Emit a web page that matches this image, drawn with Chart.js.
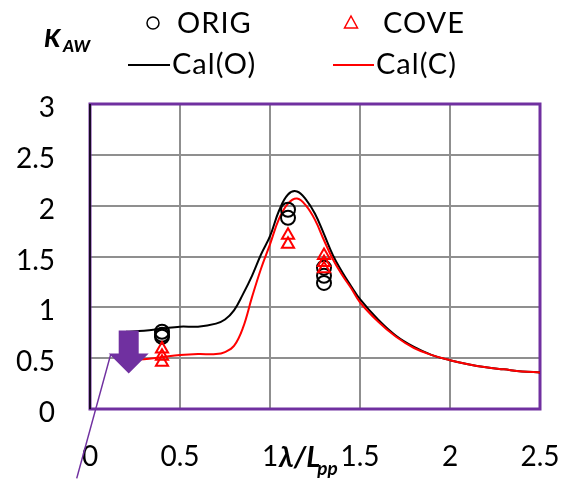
<!DOCTYPE html>
<html>
<head>
<meta charset="utf-8">
<script src="https://cdn.jsdelivr.net/npm/chart.js@4"></script>
<style>
  html, body { margin: 0; padding: 0; background: #fff; }
  #wrap { width: 562px; height: 482px; }
</style>
</head>
<body>
<div id="wrap"><canvas id="kavChart" width="562" height="482"></canvas></div>
<script>
// measured points
const origX = [0.4, 0.4, 0.4, 1.1, 1.1, 1.3, 1.3, 1.3];
const origY = [0.76, 0.73, 0.71, 1.96, 1.88, 1.39, 1.31, 1.24];
const coveX = [0.4, 0.4, 0.4, 1.1, 1.1, 1.3, 1.3, 1.3];
const coveY = [0.59, 0.52, 0.46, 1.71, 1.62, 1.51, 1.44, 1.38];

// calculated curves
const calX = [0.2, 0.3, 0.4, 0.5, 0.6, 0.7, 0.75, 0.8, 0.85, 0.9, 0.95, 1.0, 1.05, 1.1, 1.15,
              1.2, 1.25, 1.3, 1.35, 1.4, 1.45, 1.5, 1.6, 1.7, 1.8, 1.9, 2.0, 2.1, 2.2, 2.3, 2.4, 2.5];
const calO = [0.76, 0.77, 0.79, 0.81, 0.81, 0.84, 0.88, 0.97, 1.13, 1.31, 1.52, 1.70, 1.95, 2.11, 2.14,
              2.06, 1.92, 1.72, 1.51, 1.35, 1.21, 1.08, 0.88, 0.72, 0.61, 0.53, 0.48, 0.44, 0.41, 0.39, 0.37, 0.36];
const calC = [0.48, 0.49, 0.51, 0.53, 0.54, 0.54, 0.56, 0.62, 0.80, 1.10, 1.38, 1.62, 1.87, 2.02, 2.07,
              2.00, 1.86, 1.66, 1.47, 1.32, 1.19, 1.05, 0.86, 0.71, 0.60, 0.53, 0.48, 0.44, 0.41, 0.39, 0.37, 0.36];

const xTicks = [0, 0.5, 1, 1.5, 2, 2.5];
const yTicks = [0, 0.5, 1, 1.5, 2, 2.5, 3];

const FONT = "Lato, 'Open Sans', sans-serif";
const PURPLE = "#7030A0";

const toPoints = (xs, ys) => xs.map((x, i) => ({ x: x, y: ys[i] }));

// frame round the plot area
const framePlugin = {
    id: "frame",
    beforeDatasetsDraw(chart) {
        const { ctx, chartArea: a } = chart;
        ctx.save();
        ctx.strokeStyle = PURPLE;
        ctx.lineWidth = 3;
        ctx.strokeRect(a.left, a.top, a.right - a.left, a.bottom - a.top);
        ctx.strokeStyle = "#1a0a26";
        ctx.lineWidth = 2;
        ctx.beginPath();
        ctx.moveTo(a.left, a.top);
        ctx.lineTo(a.left, a.bottom);
        ctx.stroke();
        ctx.restore();
    }
};

// legend, axis titles and the arrow
const extrasPlugin = {
    id: "extras",
    afterDatasetsDraw(chart) {
        const { ctx } = chart;
        const xs = chart.scales.x, ys = chart.scales.y;
        ctx.save();

        // arrow
        const tipX = xs.getPixelForValue(0.215);
        const tipY = ys.getPixelForValue(0.35);
        ctx.fillStyle = PURPLE;
        ctx.beginPath();
        ctx.moveTo(tipX - 10, tipY - 43);
        ctx.lineTo(tipX + 10, tipY - 43);
        ctx.lineTo(tipX + 10, tipY - 20);
        ctx.lineTo(tipX + 20, tipY - 20);
        ctx.lineTo(tipX, tipY);
        ctx.lineTo(tipX - 20, tipY - 20);
        ctx.lineTo(tipX - 10, tipY - 20);
        ctx.closePath();
        ctx.fill();
        ctx.strokeStyle = PURPLE;
        ctx.lineWidth = 1.5;
        ctx.beginPath();
        ctx.moveTo(tipX - 18, tipY - 19);
        ctx.lineTo(tipX - 52, tipY + 105);
        ctx.stroke();

        // legend
        const ds = chart.data.datasets;
        ctx.textBaseline = "middle";
        ctx.textAlign = "left";
        ctx.font = "29px " + FONT;
        ctx.letterSpacing = "1px";
        ctx.fillStyle = "#000";

        ctx.lineWidth = 1.5;
        ctx.strokeStyle = ds[0].borderColor;
        ctx.beginPath();
        ctx.arc(153, 23, 6, 0, Math.PI * 2);
        ctx.stroke();
        ctx.fillText(ds[0].label, 177, 24);

        ctx.strokeStyle = ds[1].borderColor;
        ctx.beginPath();
        ctx.moveTo(351, 16);
        ctx.lineTo(357.5, 28);
        ctx.lineTo(344.5, 28);
        ctx.closePath();
        ctx.stroke();
        ctx.fillText(ds[1].label, 383, 24);

        ctx.lineWidth = 2;
        ctx.strokeStyle = ds[2].borderColor;
        ctx.beginPath();
        ctx.moveTo(128, 65);
        ctx.lineTo(170, 65);
        ctx.stroke();
        ctx.fillText(ds[2].label, 172, 65);

        ctx.strokeStyle = ds[3].borderColor;
        ctx.beginPath();
        ctx.moveTo(333, 65);
        ctx.lineTo(374, 65);
        ctx.stroke();
        ctx.fillText(ds[3].label, 376, 65);
        ctx.letterSpacing = "0px";

        // y title K_AW, clipped on the right
        ctx.save();
        ctx.beginPath();
        ctx.rect(30, 20, 61, 40);
        ctx.clip();
        ctx.textBaseline = "alphabetic";
        ctx.font = "italic 900 25px " + FONT;
        ctx.fillText("K", 44, 47);
        ctx.font = "italic 900 17px " + FONT;
        ctx.fillText("AW", 63, 52);
        ctx.restore();

        // x title
        ctx.textBaseline = "alphabetic";
        ctx.font = "italic bold 29px " + FONT;
        ctx.fillText("\u03bb/L", 279, 467);
        const w = ctx.measureText("\u03bb/L").width;
        ctx.font = "italic bold 19px " + FONT;
        ctx.fillText("pp", 279 + w - 3, 475);

        ctx.restore();
    }
};

const tickLabel = v => String(v);

new Chart(
document.getElementById("kavChart"),
{
    type: "scatter",
    data: {
        datasets: [
            {
                label: "ORIG",
                data: toPoints(origX, origY),
                pointStyle: "circle",
                pointRadius: 7,
                pointBorderWidth: 2,
                borderColor: "#000",
                backgroundColor: "rgba(0,0,0,0)",
                order: 1
            },
            {
                label: "COVE",
                data: toPoints(coveX, coveY),
                pointStyle: "triangle",
                pointRadius: 7,
                pointBorderWidth: 2,
                borderColor: "#ff0000",
                backgroundColor: "rgba(0,0,0,0)",
                order: 0
            },
            {
                label: "Cal(O)",
                data: toPoints(calX, calO),
                showLine: true,
                pointRadius: 0,
                borderWidth: 2,
                borderColor: "#000",
                tension: 0.4,
                order: 3
            },
            {
                label: "Cal(C)",
                data: toPoints(calX, calC),
                showLine: true,
                pointRadius: 0,
                borderWidth: 2,
                borderColor: "#ff0000",
                tension: 0.4,
                order: 2
            }
        ]
    },
    options: {
        responsive: false,
        animation: false,
        layout: { padding: { left: 0, right: 22, top: 104, bottom: 0 } },
        plugins: {
            legend: { display: false },
            tooltip: { enabled: false }
        },
        scales: {
            x: {
                type: "linear",
                min: 0,
                max: 2.5,
                afterBuildTicks: scale => { scale.ticks = xTicks.map(v => ({ value: v })); },
                afterFit: scale => {
                    scale.height = 73;
                    scale.paddingLeft = 0;
                    scale.paddingRight = 0;
                },
                grid: { color: "#8f8f8f", lineWidth: 2, drawTicks: false },
                border: { display: false },
                ticks: {
                    padding: 31,
                    color: "#000",
                    maxRotation: 0,
                    callback: tickLabel,
                    font: { family: FONT, size: 28 }
                }
            },
            y: {
                min: 0,
                max: 3,
                afterBuildTicks: scale => { scale.ticks = yTicks.map(v => ({ value: v })); },
                afterFit: scale => {
                    scale.width = 90;
                    scale.paddingTop = 0;
                    scale.paddingBottom = 0;
                },
                grid: { color: "#8f8f8f", lineWidth: 2, drawTicks: false },
                border: { display: false },
                ticks: {
                    padding: 35,
                    labelOffset: 4,
                    color: "#000",
                    callback: tickLabel,
                    font: { family: FONT, size: 28 }
                }
            }
        }
    },
    plugins: [framePlugin, extrasPlugin]
}
);
</script>
</body>
</html>
